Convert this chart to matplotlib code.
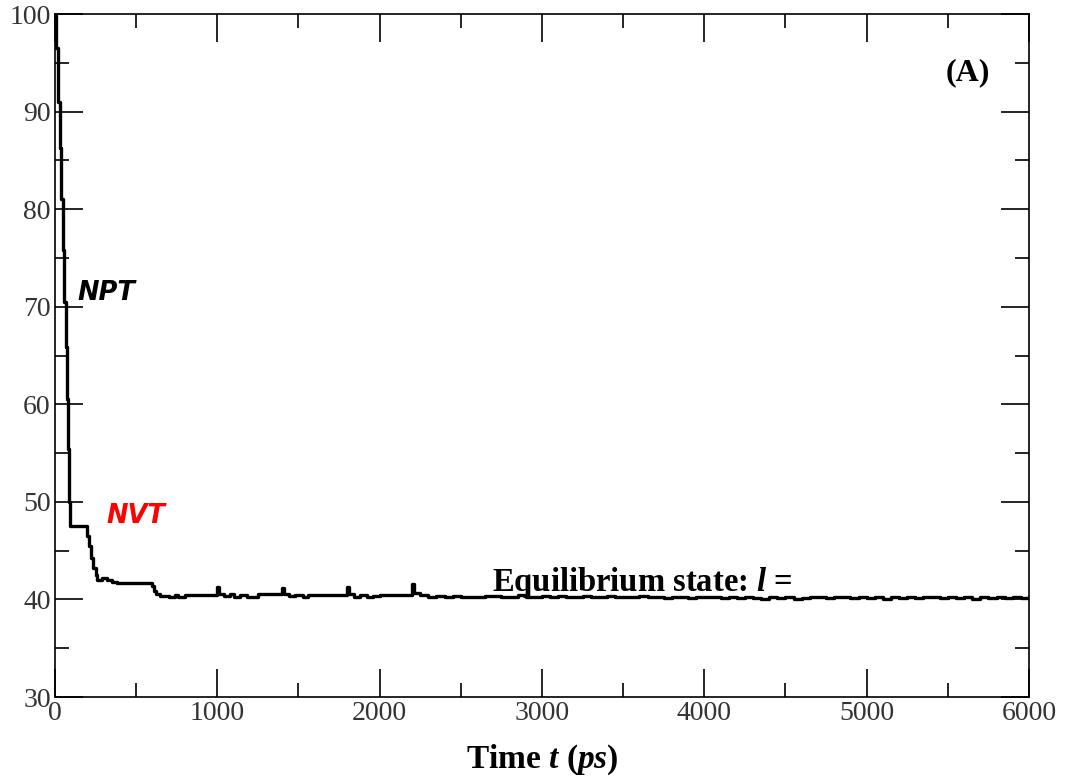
import matplotlib
matplotlib.use("Agg")
import matplotlib.pyplot as plt
from matplotlib.ticker import MultipleLocator

plt.rcParams.update({
    "font.family": "Liberation Serif",
    "mathtext.fontset": "custom",
    "mathtext.rm": "Liberation Serif",
    "mathtext.it": "Liberation Serif:italic",
    "mathtext.bf": "Liberation Serif:bold",
    "mathtext.bfit": "Liberation Serif:bold:italic",
})

# step trace: time (ps) and value
time = [0, 8, 20, 30, 40, 50, 58, 65, 72, 80, 86, 92,
        198, 208, 220, 235, 250, 262, 290, 320, 350, 380,
        596, 610, 625, 650, 700, 740, 760, 800,
        1000, 1010, 1040, 1080, 1100, 1140, 1180, 1250,
        1400, 1410, 1440, 1480, 1530, 1560, 1600,
        1800, 1810, 1840, 1880, 1920, 1960, 2000,
        2200, 2210, 2250, 2300, 2350, 2400, 2450, 2500, 2550, 2600,
        2650, 2700, 2750, 2800, 2850, 2900, 2950, 3000, 3050, 3100,
        3150, 3200, 3250, 3300, 3350, 3400, 3450, 3500, 3550, 3600,
        3650, 3700, 3750, 3800, 3850, 3900, 3950, 4000, 4050, 4100,
        4150, 4200, 4250, 4300, 4350, 4400, 4450, 4500, 4550, 4600,
        4650, 4700, 4750, 4800, 4850, 4900, 4950, 5000, 5050, 5100,
        5150, 5200, 5250, 5300, 5350, 5400, 5450, 5500, 5550, 5600,
        5650, 5700, 5750, 5800, 5850, 5900, 5950, 6000]
value = [100, 96.5, 91.0, 86.3, 81.0, 75.8, 70.5, 65.9, 60.5, 55.4, 50.0, 47.5,
         46.5, 45.5, 44.2, 43.2, 42.5, 42.0, 42.2, 42.0, 41.8, 41.7,
         41.4, 40.9, 40.6, 40.4, 40.3, 40.5, 40.2, 40.45,
         41.3, 40.6, 40.4, 40.6, 40.3, 40.5, 40.3, 40.55,
         41.2, 40.6, 40.4, 40.5, 40.3, 40.45, 40.5,
         41.3, 40.6, 40.3, 40.45, 40.3, 40.4, 40.45,
         41.6, 40.7, 40.45, 40.3, 40.4, 40.25, 40.35, 40.2, 40.3, 40.2,
         40.35, 40.4, 40.25, 40.3, 40.45, 40.3, 40.2, 40.35, 40.25, 40.4,
         40.3, 40.2, 40.35, 40.25, 40.3, 40.4, 40.2, 40.3, 40.25, 40.35,
         40.2, 40.3, 40.15, 40.25, 40.3, 40.15, 40.25, 40.2, 40.3, 40.1,
         40.2, 40.1, 40.25, 40.15, 40.05, 40.2, 40.1, 40.2, 40.05, 40.15,
         40.25, 40.3, 40.15, 40.3, 40.2, 40.1, 40.25, 40.1, 40.2, 40.05,
         40.2, 40.1, 40.25, 40.1, 40.2, 40.3, 40.1, 40.25, 40.1, 40.2,
         40.05, 40.2, 40.1, 40.25, 40.15, 40.2, 40.1, 40.2]

fig = plt.figure(figsize=(10.65, 7.8), dpi=100)
ax = fig.add_axes([0.0516, 0.1064, 0.9146, 0.8756])

ax.plot(time, value, color="black", linewidth=2.4, drawstyle="steps-post")

ax.set_xlim(0, 6000)
ax.set_ylim(30, 100)
ax.xaxis.set_major_locator(MultipleLocator(1000))
ax.xaxis.set_minor_locator(MultipleLocator(500))
ax.yaxis.set_major_locator(MultipleLocator(10))
ax.yaxis.set_minor_locator(MultipleLocator(5))
ax.tick_params(which="both", direction="in", top=True, right=True,
               labelsize=20, labelcolor="#333333", width=1.2)
ax.tick_params(which="major", length=20)
ax.tick_params(which="minor", length=10)
ax.tick_params(axis="x", pad=3)
ax.tick_params(axis="y", pad=3)
for sp in ax.spines.values():
    sp.set_linewidth(1.2)

ax.set_xlabel(r"Time $\mathbfit{t}$ ($\mathbfit{ps}$)", fontsize=24,
              fontweight="bold", labelpad=12)

ax.text(0.960, 0.914, "(A)", transform=ax.transAxes, fontsize=23,
        fontweight="bold", ha="right", va="center")
ax.text(2690, 40.85, r"Equilibrium state: $\mathbfit{l}$ =", fontsize=23.5,
        fontweight="bold", ha="left", va="baseline")
ax.text(140, 71.4, "NPT", fontsize=18.5, fontweight="bold", style="italic",
        family="DejaVu Sans", va="center")
ax.text(320, 48.6, "NVT", fontsize=18.5, fontweight="bold", style="italic",
        family="DejaVu Sans", color="red", va="center")

fig.savefig("out.png", dpi=100)
